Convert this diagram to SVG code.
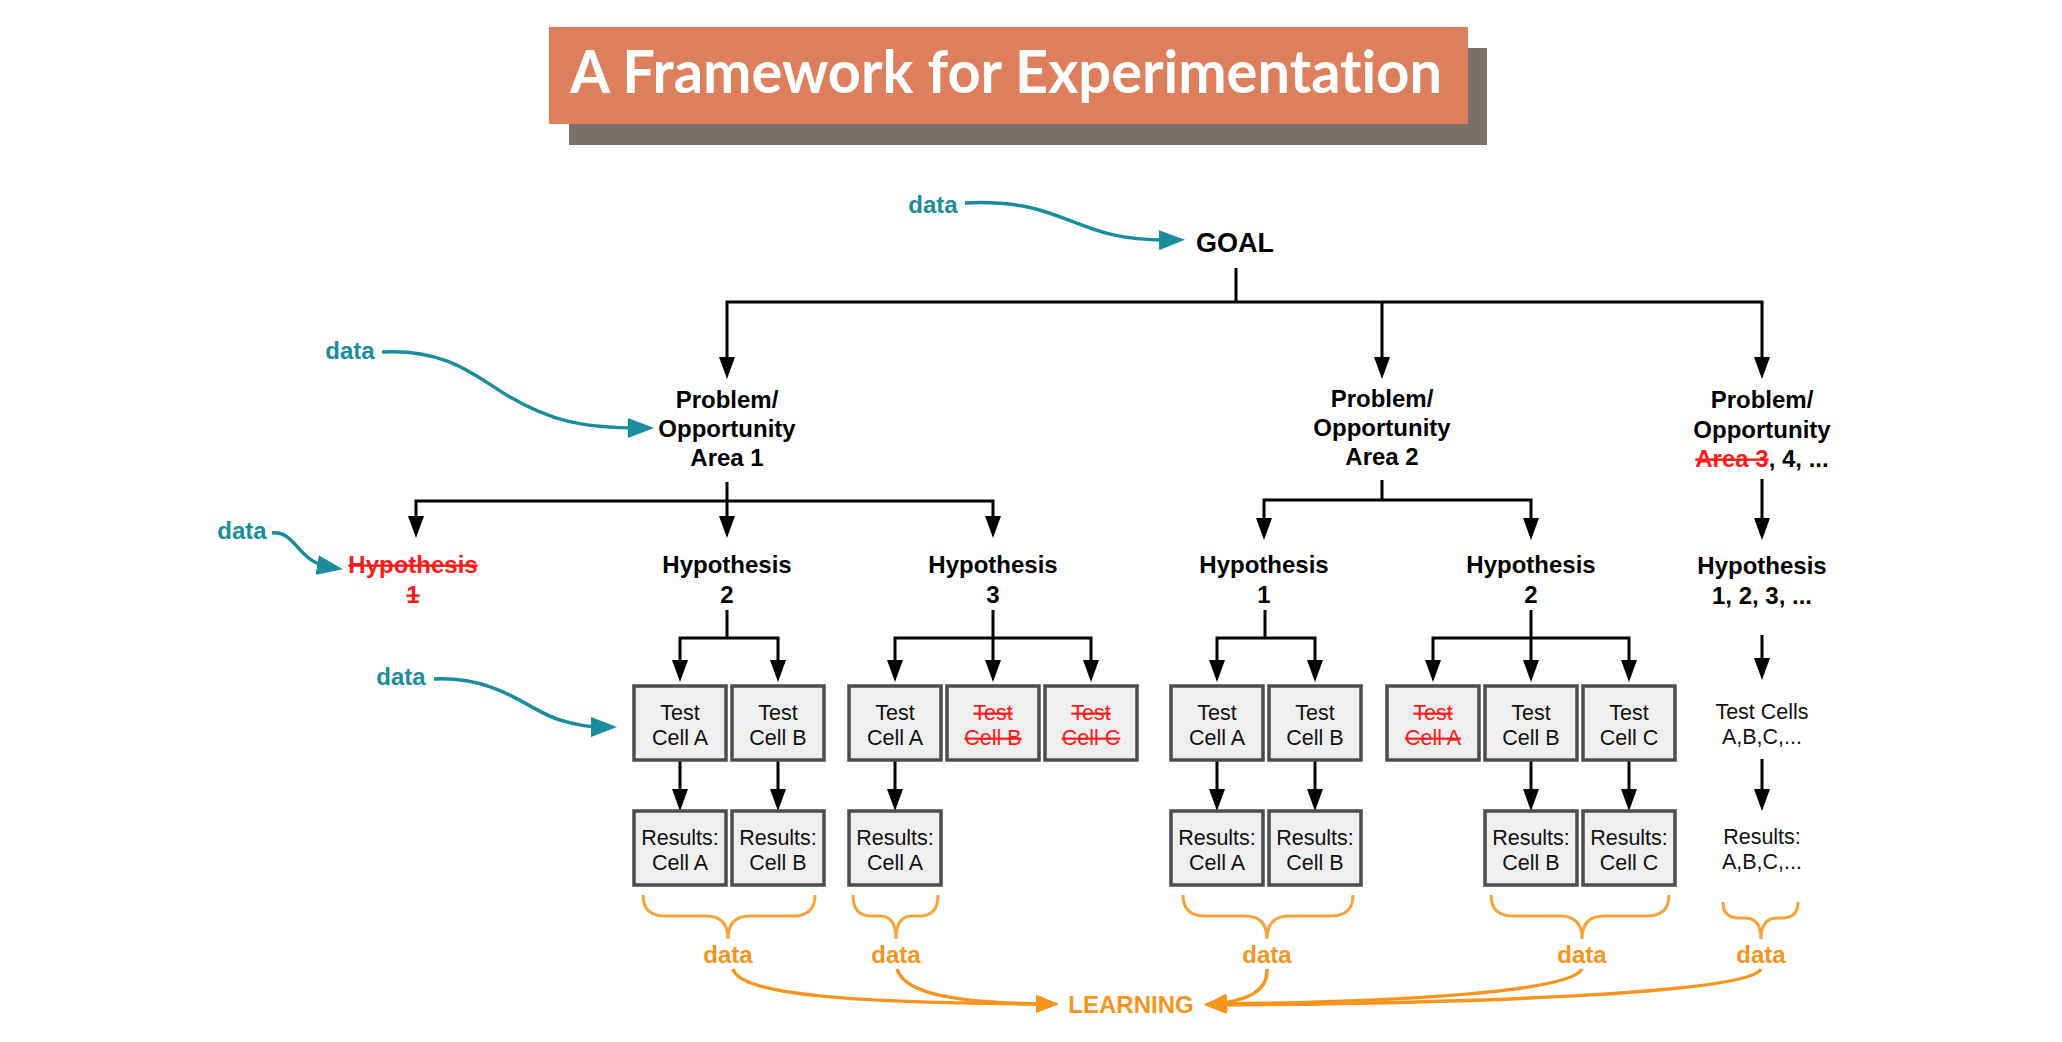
<svg xmlns="http://www.w3.org/2000/svg" width="2062" height="1042" viewBox="0 0 2062 1042">
<style>
text{font-family:"Liberation Sans",Arial,sans-serif}
.b{font-weight:bold;font-size:24px;fill:#000;text-anchor:middle}
.r{font-size:21.5px;fill:#111;text-anchor:middle}
.red{fill:#ff1a1a;text-decoration:line-through}
.teal{font-weight:bold;font-size:24px;fill:#1a8d9c;text-anchor:middle}
.org{font-weight:bold;font-size:24px;fill:#f7941d;text-anchor:middle}
.box{fill:#efefef;stroke:#4d4d4d;stroke-width:3.5}
.ln{fill:none;stroke:#000;stroke-width:3}
.ta{fill:none;stroke:#1a8d9c;stroke-width:3.5}
.oa{fill:none;stroke:#f7941d;stroke-width:3.5}
.br{fill:none;stroke:#f7a33a;stroke-width:3}
</style>
<defs>
<marker id="ab" viewBox="0 0 22 16" refX="12" refY="8" markerWidth="22" markerHeight="16" markerUnits="userSpaceOnUse" orient="auto-start-reverse"><path d="M0,0 L22,8 L0,16 z" fill="#000"/></marker>
<marker id="at" viewBox="0 0 26 20" refX="12" refY="10" markerWidth="26" markerHeight="20" markerUnits="userSpaceOnUse" orient="auto"><path d="M0,0 L26,10 L0,20 z" fill="#1a8d9c"/></marker>
<marker id="ao" viewBox="0 0 23 18" refX="12" refY="9" markerWidth="23" markerHeight="18" markerUnits="userSpaceOnUse" orient="auto"><path d="M0,0 L23,9 L0,18 z" fill="#f7941d"/></marker>
</defs>
<rect width="2062" height="1042" fill="#fff"/>

<g id="title">
<rect x="569" y="48" width="918" height="97" fill="#7a6f69"/>
<rect x="549" y="27" width="919" height="97" fill="#dd7f5d"/>
<text x="1006" y="93" text-anchor="middle" style="font-family:Lato,'Liberation Sans',sans-serif;font-weight:bold;font-size:59px;fill:#fff;font-variant-ligatures:none" textLength="872" lengthAdjust="spacingAndGlyphs">A Framework for Experimentation</text>
</g>

<g id="connectors">
<path class="ln" d="M1236,268 V302"/>
<path class="ln" d="M727,369 V302 H1762 V369" marker-start="url(#ab)" marker-end="url(#ab)"/>
<path class="ln" d="M1382,302 V369" marker-end="url(#ab)"/>
<path class="ln" d="M727,482 V528" marker-end="url(#ab)"/>
<path class="ln" d="M416,528 V501 H993 V528" marker-start="url(#ab)" marker-end="url(#ab)"/>
<path class="ln" d="M1382,480 V500"/>
<path class="ln" d="M1264,530 V500 H1531 V530" marker-start="url(#ab)" marker-end="url(#ab)"/>
<path class="ln" d="M1762,479 V530" marker-end="url(#ab)"/>
<path class="ln" d="M727,610 V638"/>
<path class="ln" d="M680,672 V638 H778 V672" marker-start="url(#ab)" marker-end="url(#ab)"/>
<path class="ln" d="M993,610 V672" marker-end="url(#ab)"/>
<path class="ln" d="M895,672 V638 H1091 V672" marker-start="url(#ab)" marker-end="url(#ab)"/>
<path class="ln" d="M1265,610 V638"/>
<path class="ln" d="M1217,672 V638 H1315 V672" marker-start="url(#ab)" marker-end="url(#ab)"/>
<path class="ln" d="M1531,610 V672" marker-end="url(#ab)"/>
<path class="ln" d="M1433,672 V638 H1629 V672" marker-start="url(#ab)" marker-end="url(#ab)"/>
<path class="ln" d="M1762,635 V670" marker-end="url(#ab)"/>
<path class="ln" d="M680,760 V801" marker-end="url(#ab)"/>
<path class="ln" d="M778,760 V801" marker-end="url(#ab)"/>
<path class="ln" d="M895,760 V801" marker-end="url(#ab)"/>
<path class="ln" d="M1217,760 V801" marker-end="url(#ab)"/>
<path class="ln" d="M1315,760 V801" marker-end="url(#ab)"/>
<path class="ln" d="M1531,760 V801" marker-end="url(#ab)"/>
<path class="ln" d="M1629,760 V801" marker-end="url(#ab)"/>
<path class="ln" d="M1762,759 V801" marker-end="url(#ab)"/>
<path class="ta" d="M965,203 C1070,198 1070,242 1171,240" marker-end="url(#at)"/>
<path class="ta" d="M382,352 C450,348 480,380 510,397 C550,420 580,428 640,428" marker-end="url(#at)"/>
<path class="ta" d="M272,533 C295,530 298,562 329,567" marker-end="url(#at)"/>
<path class="ta" d="M434,679 C500,676 530,712 560,720 C580,726 590,727 603,727" marker-end="url(#at)"/>
<path class="br" d="M643,895 Q643,916 665,916 H706 Q728,916 728,939 Q728,916 750,916 H793 Q815,916 815,895"/>
<path class="br" d="M853,895 Q853,916 871,916 H880 Q896,916 896,939 Q896,916 912,916 H920 Q938,916 938,895"/>
<path class="br" d="M1183,895 Q1183,916 1205,916 H1245 Q1267,916 1267,939 Q1267,916 1289,916 H1331 Q1353,916 1353,895"/>
<path class="br" d="M1491,895 Q1491,916 1513,916 H1560 Q1582,916 1582,939 Q1582,916 1604,916 H1647 Q1669,916 1669,895"/>
<path class="br" d="M1723,902 Q1723,918 1739,918 H1745 Q1761,918 1761,939 Q1761,918 1777,918 H1782 Q1798,918 1798,902"/>
<path class="oa" d="M733,969 C740,995 850,1003 1048,1004" marker-end="url(#ao)"/>
<path class="oa" d="M897,969 C905,995 960,1003 1048,1004" marker-end="url(#ao)"/>
<path class="oa" d="M1267,969 C1268,990 1250,1000 1215,1004" marker-end="url(#ao)"/>
<path class="oa" d="M1582,969 C1570,992 1400,1002 1215,1004" marker-end="url(#ao)"/>
<path class="oa" d="M1761,969 C1750,992 1500,1003 1215,1005" marker-end="url(#ao)"/>
</g>

<g id="goal"><text class="b" x="1235" y="252" style="font-size:27px">GOAL</text></g>
<g id="data-goal"><text class="teal" x="933" y="213">data</text></g>
<g id="data-area1"><text class="teal" x="350" y="359">data</text></g>
<g id="data-hyp1"><text class="teal" x="242" y="539">data</text></g>
<g id="data-cells"><text class="teal" x="401" y="685">data</text></g>

<g id="area1"><text class="b" x="727" y="408">Problem/</text><text class="b" x="727" y="437">Opportunity</text><text class="b" x="727" y="466">Area 1</text></g>
<g id="area2"><text class="b" x="1382" y="407">Problem/</text><text class="b" x="1382" y="436">Opportunity</text><text class="b" x="1382" y="465">Area 2</text></g>
<g id="area3"><text class="b" x="1762" y="408">Problem/</text><text class="b" x="1762" y="438">Opportunity</text><text class="b" x="1762" y="467"><tspan class="red">Area 3</tspan>, 4, ...</text></g>

<g id="a1h1"><text class="b red" x="413" y="573">Hypothesis</text><text class="b red" x="413" y="603">1</text></g>
<g id="a1h2"><text class="b" x="727" y="573">Hypothesis</text><text class="b" x="727" y="603">2</text></g>
<g id="a1h3"><text class="b" x="993" y="573">Hypothesis</text><text class="b" x="993" y="603">3</text></g>
<g id="a2h1"><text class="b" x="1264" y="573">Hypothesis</text><text class="b" x="1264" y="603">1</text></g>
<g id="a2h2"><text class="b" x="1531" y="573">Hypothesis</text><text class="b" x="1531" y="603">2</text></g>
<g id="a3h"><text class="b" x="1762" y="574">Hypothesis</text><text class="b" x="1762" y="604">1, 2, 3, ...</text></g>

<g id="a1h2-tA"><rect class="box" x="634" y="686" width="92" height="74"/><text class="r" x="680" y="720">Test</text><text class="r" x="680" y="745">Cell A</text></g>
<g id="a1h2-tB"><rect class="box" x="732" y="686" width="92" height="74"/><text class="r" x="778" y="720">Test</text><text class="r" x="778" y="745">Cell B</text></g>
<g id="a1h3-tA"><rect class="box" x="849" y="686" width="92" height="74"/><text class="r" x="895" y="720">Test</text><text class="r" x="895" y="745">Cell A</text></g>
<g id="a1h3-tB"><rect class="box" x="947" y="686" width="92" height="74"/><text class="r red" x="993" y="720">Test</text><text class="r red" x="993" y="745">Cell B</text></g>
<g id="a1h3-tC"><rect class="box" x="1045" y="686" width="92" height="74"/><text class="r red" x="1091" y="720">Test</text><text class="r red" x="1091" y="745">Cell C</text></g>
<g id="a2h1-tA"><rect class="box" x="1171" y="686" width="92" height="74"/><text class="r" x="1217" y="720">Test</text><text class="r" x="1217" y="745">Cell A</text></g>
<g id="a2h1-tB"><rect class="box" x="1269" y="686" width="92" height="74"/><text class="r" x="1315" y="720">Test</text><text class="r" x="1315" y="745">Cell B</text></g>
<g id="a2h2-tA"><rect class="box" x="1387" y="686" width="92" height="74"/><text class="r red" x="1433" y="720">Test</text><text class="r red" x="1433" y="745">Cell A</text></g>
<g id="a2h2-tB"><rect class="box" x="1485" y="686" width="92" height="74"/><text class="r" x="1531" y="720">Test</text><text class="r" x="1531" y="745">Cell B</text></g>
<g id="a2h2-tC"><rect class="box" x="1583" y="686" width="92" height="74"/><text class="r" x="1629" y="720">Test</text><text class="r" x="1629" y="745">Cell C</text></g>
<g id="a3-tests"><text class="r" x="1762" y="719">Test Cells</text><text class="r" x="1762" y="744">A,B,C,...</text></g>

<g id="a1h2-rA"><rect class="box" x="634" y="811" width="92" height="74"/><text class="r" x="680" y="845">Results:</text><text class="r" x="680" y="870">Cell A</text></g>
<g id="a1h2-rB"><rect class="box" x="732" y="811" width="92" height="74"/><text class="r" x="778" y="845">Results:</text><text class="r" x="778" y="870">Cell B</text></g>
<g id="a1h3-rA"><rect class="box" x="849" y="811" width="92" height="74"/><text class="r" x="895" y="845">Results:</text><text class="r" x="895" y="870">Cell A</text></g>
<g id="a2h1-rA"><rect class="box" x="1171" y="811" width="92" height="74"/><text class="r" x="1217" y="845">Results:</text><text class="r" x="1217" y="870">Cell A</text></g>
<g id="a2h1-rB"><rect class="box" x="1269" y="811" width="92" height="74"/><text class="r" x="1315" y="845">Results:</text><text class="r" x="1315" y="870">Cell B</text></g>
<g id="a2h2-rB"><rect class="box" x="1485" y="811" width="92" height="74"/><text class="r" x="1531" y="845">Results:</text><text class="r" x="1531" y="870">Cell B</text></g>
<g id="a2h2-rC"><rect class="box" x="1583" y="811" width="92" height="74"/><text class="r" x="1629" y="845">Results:</text><text class="r" x="1629" y="870">Cell C</text></g>
<g id="a3-results"><text class="r" x="1762" y="844">Results:</text><text class="r" x="1762" y="869">A,B,C,...</text></g>

<g id="data-o1"><text class="org" x="728" y="963">data</text></g>
<g id="data-o2"><text class="org" x="896" y="963">data</text></g>
<g id="data-o3"><text class="org" x="1267" y="963">data</text></g>
<g id="data-o4"><text class="org" x="1582" y="963">data</text></g>
<g id="data-o5"><text class="org" x="1761" y="963">data</text></g>
<g id="learning"><text class="org" x="1131" y="1013" style="font-size:24px">LEARNING</text></g>
</svg>
